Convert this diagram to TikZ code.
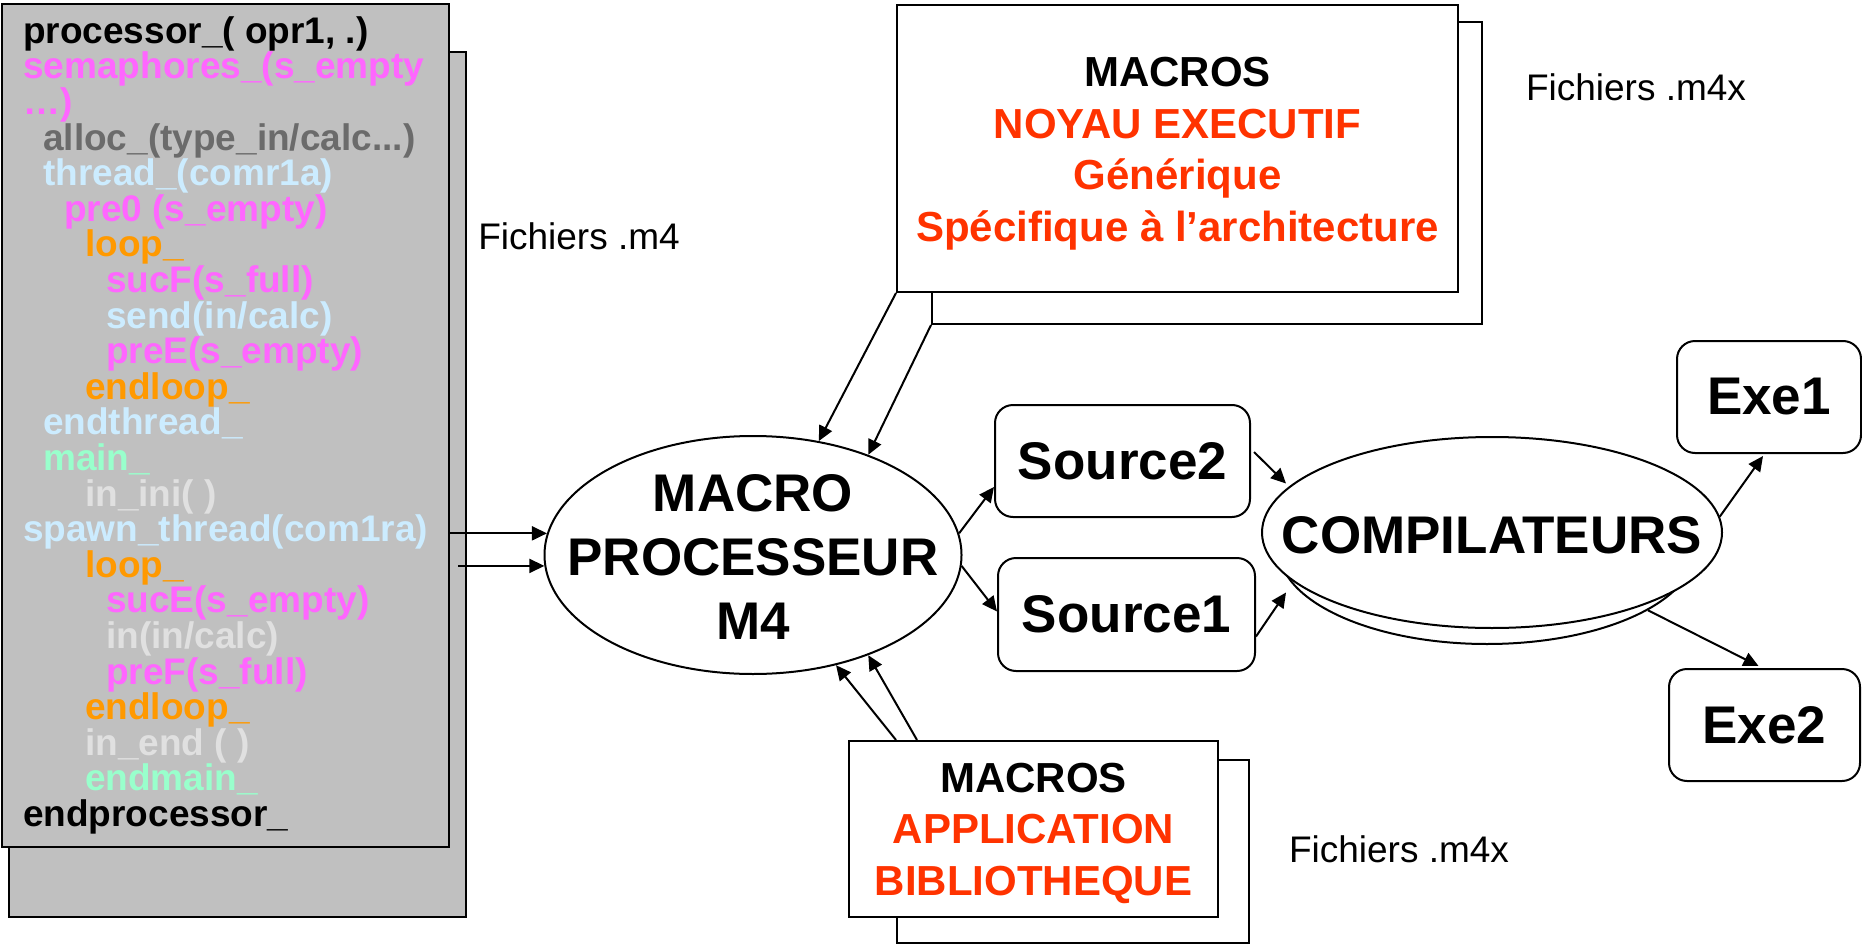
\documentclass[tikz,border=0pt]{standalone}
\usepackage{fontspec}
\setmainfont{Liberation Sans}
\usetikzlibrary{shapes.geometric,arrows.meta,calc}

\definecolor{panelgray}{HTML}{C0C0C0}
\definecolor{kred}{HTML}{FF3300}
\definecolor{kmagenta}{HTML}{FF66FF}
\definecolor{kdark}{HTML}{6B6B6B}
\definecolor{kblue}{HTML}{CCECFF}
\definecolor{korange}{HTML}{FF9900}
\definecolor{kmint}{HTML}{99FFCC}
\definecolor{klight}{HTML}{E0E0E0}

\begin{document}
\begin{tikzpicture}[x=1pt,y=-1pt,
  box/.style={draw, line width=2pt, rectangle, inner sep=0pt, fill=white},
  codebox/.style={box, fill=panelgray},
  rbox/.style={box, rounded corners=18pt},
  oval/.style={draw, line width=2pt, ellipse, inner sep=0pt, fill=white},
  arr/.style={line width=2pt, -{Triangle[length=15pt,width=14pt]}},
  code/.style={anchor=base west, inner sep=0pt, font=\fontsize{37}{37}\selectfont\bfseries},
  big/.style={font=\fontsize{53}{64}\selectfont\bfseries, align=center, inner sep=0pt},
  macrotext/.style={font=\fontsize{42}{51.5}\selectfont\bfseries, align=center, inner sep=0pt},
  note/.style={font=\fontsize{37}{37}\selectfont, inner sep=0pt}
]
\useasboundingbox (0,0) rectangle (1862,944);

% ---- code listing panel (two stacked sheets) ----
\node[codebox, minimum width=457pt, minimum height=865pt] (codeback) at (237.5,484.5) {};
\node[codebox, minimum width=447pt, minimum height=843pt] (codefront) at (225.5,425.5) {};

\node[code, black]    (l1)  at (23, 43.3)  {processor\_( opr1, .)};
\node[code, kmagenta] (l2)  at (23, 78.9)  {semaphores\_(s\_empty};
\node[code, kmagenta] (l3)  at (23, 114.5) {…)};
\node[code, kdark]    (l4)  at (43, 150.1) {alloc\_(type\_in/calc...)};
\node[code, kblue]    (l5)  at (43, 185.7) {thread\_(comr1a)};
\node[code, kmagenta] (l6)  at (64, 221.3) {pre0 (s\_empty)};
\node[code, korange]  (l7)  at (85, 256.9) {loop\_};
\node[code, kmagenta] (l8)  at (106,292.5) {sucF(s\_full)};
\node[code, kblue]    (l9)  at (106,328.1) {send(in/calc)};
\node[code, kmagenta] (l10) at (106,363.7) {preE(s\_empty)};
\node[code, korange]  (l11) at (85, 399.3) {endloop\_};
\node[code, kblue]    (l12) at (43, 434.9) {endthread\_};
\node[code, kmint]    (l13) at (43, 470.5) {main\_};
\node[code, klight]   (l14) at (85, 506.1) {in\_ini( )};
\node[code, kblue]    (l15) at (23, 541.7) {spawn\_thread(com1ra)};
\node[code, korange]  (l16) at (85, 577.3) {loop\_};
\node[code, kmagenta] (l17) at (106,612.9) {sucE(s\_empty)};
\node[code, klight]   (l18) at (106,648.5) {in(in/calc)};
\node[code, kmagenta] (l19) at (106,684.1) {preF(s\_full)};
\node[code, korange]  (l20) at (85, 719.7) {endloop\_};
\node[code, klight]   (l21) at (85, 755.3) {in\_end ( )};
\node[code, kmint]    (l22) at (85, 790.9) {endmain\_};
\node[code, black]    (l23) at (23, 826.5) {endprocessor\_};

% ---- executive kernel macros (two stacked sheets) ----
\node[box, minimum width=550pt, minimum height=302pt] (topback) at (1207,173) {};
\node[box, minimum width=561pt, minimum height=287pt] (topfront) at (1177.5,148.5) {};
\node[macrotext] (toptext) at (1177.5,153.5)
  {MACROS\\\textcolor{kred}{NOYAU EXECUTIF}\\\textcolor{kred}{Générique}\\\textcolor{kred}{Spécifique à l’architecture}};

% ---- application macros (two stacked sheets) ----
\node[box, minimum width=352pt, minimum height=183pt] (botback) at (1073,851.5) {};
\node[box, minimum width=369pt, minimum height=176pt] (botfront) at (1033.5,829) {};
\node[macrotext] (bottext) at (1033.5,833)
  {MACROS\\\textcolor{kred}{APPLICATION}\\\textcolor{kred}{BIBLIOTHEQUE}};

% ---- file labels ----
\node[note] (f1) at (579,236) {Fichiers .m4};
\node[note] (f2) at (1636,87) {Fichiers .m4x};
\node[note] (f3) at (1399,849) {Fichiers .m4x};

% ---- macro processor ----
\node[oval, minimum width=417pt, minimum height=238pt] (m4) at (753,555) {};
\node[big] (m4text) at (753,557) {MACRO\\PROCESSEUR\\M4};

% ---- generated sources ----
\node[rbox, minimum width=255pt, minimum height=112pt, font=\fontsize{53}{64}\selectfont\bfseries] (src2) at (1122.5,461) {Source2};
\node[rbox, minimum width=257pt, minimum height=113pt, font=\fontsize{53}{64}\selectfont\bfseries] (src1) at (1126.5,614.5) {Source1};

% ---- compilers ----
\node[oval, minimum width=417pt, minimum height=191pt] (compilback) at (1487,548.5) {};
\node[oval, minimum width=460pt, minimum height=191pt] (compil) at (1492,532.5) {};
\node[big] (compiltext) at (1492,535) {COMPILATEURS};

% ---- executables ----
\node[rbox, minimum width=184pt, minimum height=112pt, font=\fontsize{53}{64}\selectfont\bfseries] (exe1) at (1769,397) {Exe1};
\node[rbox, minimum width=191pt, minimum height=112pt, font=\fontsize{53}{64}\selectfont\bfseries] (exe2) at (1764.5,725) {Exe2};

% ---- connectors ----
\draw[arr] (codefront.east |- m4.174) -- (m4.174);
\draw[arr] ([xshift=8pt]codefront.east |- m4.183) -- (m4.183);

\draw[arr] (topfront.south west) -- (m4.60);
\draw[arr] (topback.south west) -- (m4.41);

\draw[arr] ($(botfront.north west)+(48,0)$) -- (m4.-53);
\draw[arr] ($(botfront.north west)+(69,0)$) -- (m4.-41);

\draw[arr] (m4.6) -- ($(src2.west)+(0,26)$);
\draw[arr] (m4.-3) -- ($(src1.west)+(0,-3)$);

\draw[arr] ($(src2.east)+(3,-9)$) -- ($(compil.west)+(25,-49)$);
\draw[arr] ($(src1.east)+(0,22)$) -- ($(compil.west)+(25,60)$);

\draw[arr] (compil.4) -- ($(exe1.south)+(-6,2)$);
\draw[arr] (compilback.-21.5) -- ($(exe2.north)+(-6,-2)$);
\end{tikzpicture}
\end{document}
